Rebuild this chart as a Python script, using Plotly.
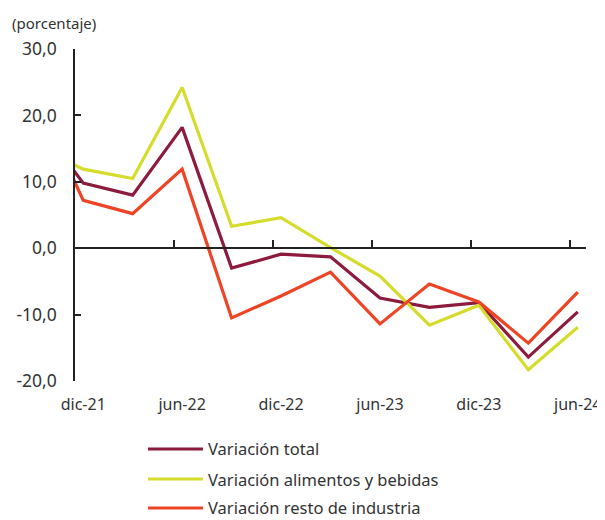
import plotly.graph_objects as go

# months relative to dic-21 (quarterly data; first point sep-21 lies just outside the axis)
months = [-3, 0, 3, 6, 9, 12, 15, 18, 21, 24, 27, 30]
total = [19.7, 9.8, 8.0, 18.2, -3.0, -0.9, -1.3, -7.5, -8.9, -8.2, -16.4, -9.6]
alimentos = [15.5, 11.9, 10.5, 24.2, 3.3, 4.6, 0.1, -4.2, -11.6, -8.6, -18.3, -11.9]
resto = [23.5, 7.2, 5.2, 11.9, -10.5, -7.2, -3.6, -11.4, -5.4, -8.1, -14.3, -6.6]

tick_labels = ["dic-21", "jun-22", "dic-22", "jun-23", "dic-23", "jun-24"]
label_pos = [0, 6, 12, 18, 24, 30]
tick_marks = [-0.5, 5.5, 11.5, 17.5, 23.5, 29.5]
y_ticks = [-20, -10, 0, 10, 20, 30]
y_tick_text = [f"{v:.1f}".replace(".", ",") for v in y_ticks]

names = ["Variación total", "Variación alimentos y bebidas", "Variación resto de industria"]
colors = ["#8C1B3D", "#D5DC2C", "#EE4425"]
series = [total, alimentos, resto]

FONT = "Noto Sans"
TXT = "#333333"

fig = go.Figure()
for nm, col, vals in zip(names, colors, series):
    fig.add_trace(go.Scatter(x=months, y=vals, mode="lines", name=nm,
                             line=dict(color=col, width=3.2), showlegend=False,
                             cliponaxis=True))
fig.add_trace(go.Scatter(x=[], y=[], xaxis="x2", showlegend=False, hoverinfo="skip"))

# page has an 8px body margin; plot area spans page x 75..586, y 49..381
fig.update_layout(
    width=597, height=512,
    margin=dict(l=67, r=19, t=41, b=139, autoexpand=False),
    paper_bgcolor="white", plot_bgcolor="white",
    font=dict(family=FONT, size=16, color=TXT),
    xaxis=dict(range=[-0.5, 30.5], anchor="free", position=0.4, automargin=False,
               showline=True, linecolor="#222222", linewidth=1.5,
               ticks="inside", tickvals=tick_marks, ticklen=7, tickwidth=1.5,
               tickcolor="#222222", showticklabels=False, showgrid=False,
               zeroline=False),
    xaxis2=dict(range=[-0.5, 30.5], overlaying="x", anchor="y", side="bottom",
                automargin=False,
                tickvals=label_pos, ticktext=tick_labels, ticks="",
                showline=False, showgrid=False, zeroline=False,
                ticklabelstandoff=12,
                tickfont=dict(family=FONT, size=16, color=TXT)),
    yaxis=dict(range=[-20, 30], tickvals=y_ticks, ticktext=y_tick_text,
               automargin=False,
               ticks="inside", ticklen=6, tickwidth=1.5,
               tickcolor="#222222", showline=True, linecolor="#222222",
               linewidth=1.5, showgrid=False, zeroline=False,
               ticklabelstandoff=13,
               tickfont=dict(family=FONT, size=17.5, color=TXT)),
)

fig.add_annotation(text="(porcentaje)", xref="paper", yref="paper",
                   x=(10 - 75) / 511, y=1 + 26 / 332, xanchor="left", yanchor="middle",
                   showarrow=False, font=dict(family=FONT, size=15, color=TXT))

# manual legend (page y positions of the rows)
leg_y = [449, 479, 508]
for nm, col, py in zip(names, colors, leg_y):
    yp = (381 - py) / 332
    fig.add_shape(type="line", xref="paper", yref="paper",
                  x0=(148 - 75) / 511, x1=(203 - 75) / 511, y0=yp, y1=yp,
                  line=dict(color=col, width=3.2))
    fig.add_annotation(text=nm, xref="paper", yref="paper",
                       x=(206 - 75) / 511, y=yp, xanchor="left", yanchor="middle",
                       showarrow=False, font=dict(family=FONT, size=16.5, color=TXT))

fig.write_html("out.html")
